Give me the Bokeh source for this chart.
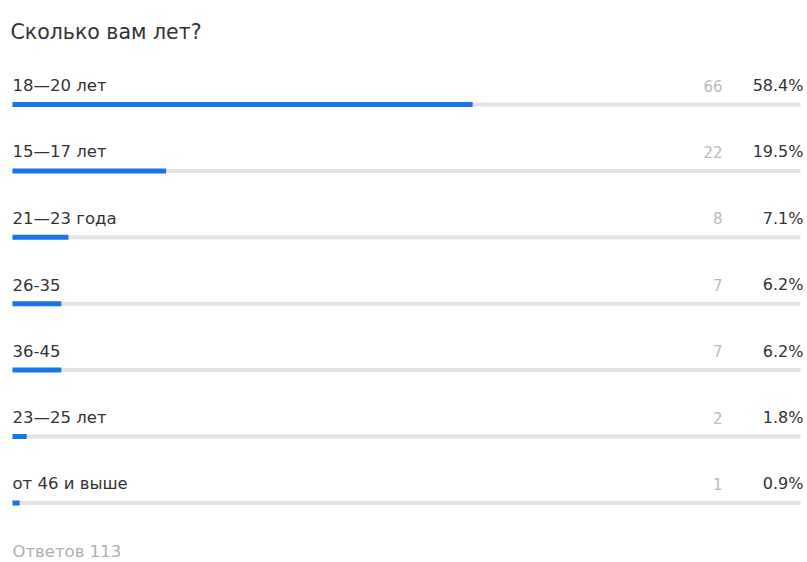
from bokeh.plotting import figure
from bokeh.models import ColumnDataSource, Range1d, Label
from bokeh.core.properties import value
from bokeh.embed import file_html
from bokeh.resources import INLINE

title_text = "Сколько вам лет?"
categories = ["18—20 лет", "15—17 лет", "21—23 года", "26-35", "36-45", "23—25 лет", "от 46 и выше"]
counts = [66, 22, 8, 7, 7, 2, 1]
percents = [58.4, 19.5, 7.1, 6.2, 6.2, 1.8, 0.9]
total_label = "Ответов 113"

W, H = 807, 562
FONT = "DejaVu Sans"

rows = list(range(len(categories)))
src = ColumnDataSource(dict(
    y=rows,
    cat=categories,
    cnt=[str(c) for c in counts],
    pct=[f"{p:.1f}%" for p in percents],
    right=percents,
    zero=[0] * len(rows),
    full=[100] * len(rows),
))

# pixel geometry -> data ranges
x0_px, x100_px = 12, 800
scale = (x100_px - x0_px) / 100.0
row0_px, row_step = 104, 66.4

p = figure(width=W, height=H, output_backend="svg", toolbar_location=None,
           x_range=Range1d(-x0_px / scale, (W - x0_px) / scale),
           y_range=Range1d((H - row0_px) / row_step, -row0_px / row_step),
           min_border=0, outline_line_color=None)
p.axis.visible = False
p.grid.visible = False
p.background_fill_color = "white"
p.border_fill_color = "white"

p.segment(x0="zero", x1="full", y0="y", y1="y", source=src,
          line_color="#e4e4e4", line_width=4, line_cap="butt")
p.segment(x0="zero", x1="right", y0="y", y1="y", source=src,
          line_color="#1a73e8", line_width=5, line_cap="butt")

p.text(x="zero", y="y", text="cat", source=src, y_offset=-19,
       text_font=value(FONT), text_font_size="16.5px", text_color="#333333",
       text_baseline="middle", text_align="left")
p.text(x="full", y="y", text="pct", source=src, y_offset=-19, x_offset=3,
       text_font=value(FONT), text_font_size="16px", text_color="#333333",
       text_baseline="middle", text_align="right")
p.text(x="full", y="y", text="cnt", source=src, y_offset=-19, x_offset=-78,
       text_font=value(FONT), text_font_size="15px", text_color="#bbbbbb",
       text_baseline="middle", text_align="right")

p.add_layout(Label(x=10, y=H - 31, x_units="screen", y_units="screen", text=title_text,
                   text_font=FONT, text_font_size="20.5px", text_color="#333333",
                   text_baseline="middle"))
p.add_layout(Label(x=12, y=H - 551, x_units="screen", y_units="screen", text=total_label,
                   text_font=FONT, text_font_size="16.5px", text_color="#b0b0b0",
                   text_baseline="middle"))

open("out.html", "w").write(file_html(p, INLINE))
